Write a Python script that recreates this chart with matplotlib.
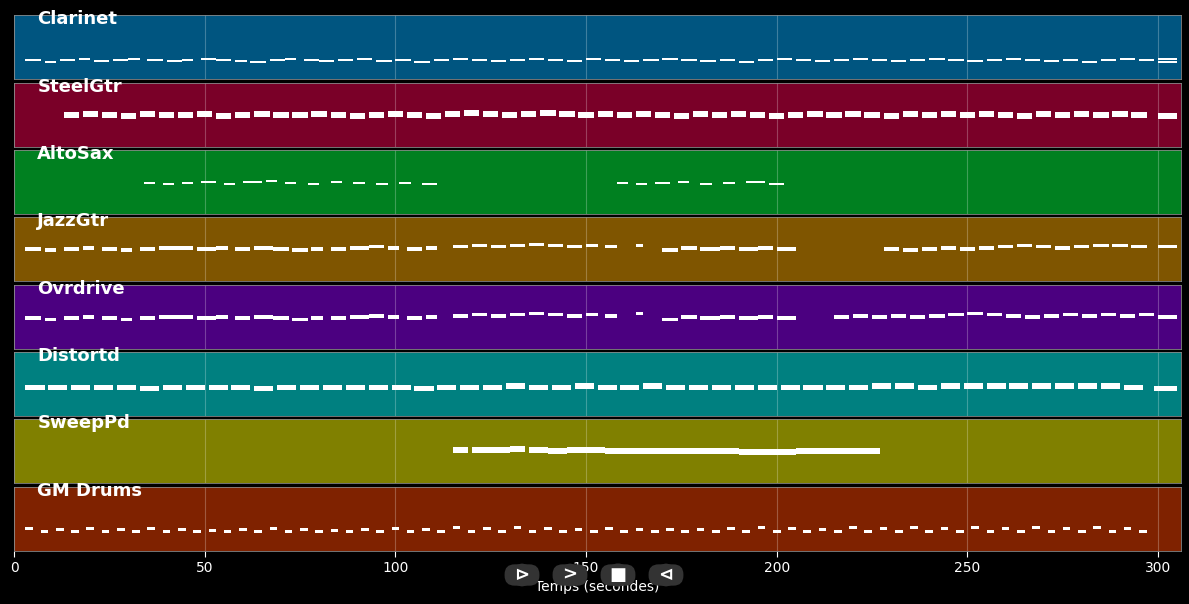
import matplotlib
matplotlib.use("Agg")
import matplotlib.pyplot as plt

names = ["Clarinet", "SteelGtr", "AltoSax", "JazzGtr", "Ovrdrive", "Distortd", "SweepPd", "GM Drums"]
colors = ["#005580", "#7a0028", "#008020", "#7f5500", "#4b0080", "#008080", "#808000", "#7f2200"]

# notes per track: (start s, duration s, pitch)
clar_start = [3,8,12,17,21,26,30,35,40,44,49,53,58,62,67,71,76,80,85,90,95,100,105,110,115,120,125,130,135,140,145,150,155,160,165,170,175,180,185,190,195,200,205,210,215,220,225,230,235,240,245,250,255,260,265,270,275,280,285,290,295,300,300]
clar_dur = [4,3,4,3,4,4,3,4,4,3,4,4,3,4,4,3,4,4,4,4,4,4,4,4,4,4,4,4,4,4,4,4,4,4,4,4,4,4,4,4,4,4,4,4,4,4,4,4,4,4,4,4,4,4,4,4,4,4,4,4,4,5,5]
clar_pitch = [48,46,48,49,47,48,49,48,47,48,49,48,47,46,48,49,48,47,48,49,47,48,46,48,49,48,47,48,49,48,47,49,48,47,48,49,48,47,48,46,48,49,48,47,48,49,48,47,48,49,48,47,48,49,48,47,48,46,48,49,48,49,46]

steel_start = [13,18,23,28,33,38,43,48,53,58,63,68,73,78,83,88,93,98,103,108,113,118,123,128,133,138,143,148,153,158,163,168,173,178,183,188,193,198,203,208,213,218,223,228,233,238,243,248,253,258,263,268,273,278,283,288,293,300]
steel_dur = [4,4,4,4,4,4,4,4,4,4,4,4,4,4,4,4,4,4,4,4,4,4,4,4,4,4,4,4,4,4,4,4,4,4,4,4,4,4,4,4,4,4,4,4,4,4,4,4,4,4,4,4,4,4,4,4,4,5]
steel_pitch = [60,61,60,59,61,60,60,61,59,60,61,60,60,61,60,59,60,61,60,59,61,62,61,60,61,62,61,60,61,60,61,60,59,61,60,61,60,59,60,61,60,61,60,59,61,60,61,60,61,60,59,61,60,61,60,61,60,59]

alto_start = [34,39,44,49,55,60,66,71,77,83,89,95,101,107,158,163,168,174,180,186,192,198]
alto_dur = [3,3,3,4,3,5,3,3,3,3,3,3,3,4,3,3,4,3,3,3,5,4]
alto_pitch = [59,58,59,60,58,60,61,59,58,60,59,58,59,58,59,58,59,60,58,59,60,58]

jazz_start = [3,8,13,18,23,28,33,38,43,48,53,58,63,68,73,78,83,88,93,98,103,108,115,120,125,130,135,140,145,150,155,163,170,175,180,185,190,195,200,228,233,238,243,248,253,258,263,268,273,278,283,288,293,300]
jazz_dur = [4,3,4,3,4,3,4,5,4,5,3,4,5,4,4,3,4,5,4,3,4,3,4,4,4,4,4,4,4,3,3,2,4,4,5,4,5,4,5,4,4,4,4,4,4,4,4,4,4,4,4,4,4,5]
jazz_pitch = [60,59,60,61,60,59,60,61,61,60,61,60,61,60,59,60,60,61,62,61,60,61,62,63,62,63,64,63,62,63,62,63,59,61,60,61,60,61,60,60,59,60,61,60,61,62,63,62,61,62,63,63,62,62]

ovr_start = [3,8,13,18,23,28,33,38,43,48,53,58,63,68,73,78,83,88,93,98,103,108,115,120,125,130,135,140,145,150,155,163,170,175,180,185,190,195,200,215,220,225,230,235,240,245,250,255,260,265,270,275,280,285,290,295,300]
ovr_dur = [4,3,4,3,4,3,4,5,4,5,3,4,5,4,4,3,4,5,4,3,4,3,4,4,4,4,4,4,4,3,3,2,4,4,5,4,5,4,5,4,4,4,4,4,4,4,4,4,4,4,4,4,4,4,4,4,5]
ovr_pitch = [59,58,59,60,59,58,59,60,60,59,60,59,60,59,58,59,59,60,61,60,59,60,61,62,61,62,63,62,61,62,61,63,58,60,59,60,59,60,59,60,61,60,61,60,61,62,63,62,61,60,61,62,61,62,61,62,60]

dist_start = [3,9,15,21,27,33,39,45,51,57,63,69,75,81,87,93,99,105,111,117,123,129,135,141,147,153,159,165,171,177,183,189,195,201,207,213,219,225,231,237,243,249,255,261,267,273,279,285,291,299]
dist_dur = [5,5,5,5,5,5,5,5,5,5,5,5,5,5,5,5,5,5,5,5,5,5,5,5,5,5,5,5,5,5,5,5,5,5,5,5,5,5,5,5,5,5,5,5,5,5,5,5,5,6]
dist_pitch = [57,57,57,57,57,56,57,57,57,57,56,57,57,57,57,57,57,56,57,57,57,58,57,57,58,57,57,58,57,57,57,57,57,57,57,57,57,58,58,57,58,58,58,58,58,58,58,58,57,56]

sweep_start = [115,120,125,130,135,140,145,150,155,160,165,170,175,180,185,190,195,200,205,210,215,220,224]
sweep_dur = [4,5,5,4,5,5,5,5,5,5,5,5,5,5,5,5,5,5,5,5,5,4,3]
sweep_pitch = [61,61,61,62,61,60,61,61,60,60,60,60,60,60,60,59,59,59,60,60,60,60,60]

drum_start = [3,7,11,15,19,23,27,31,35,39,43,47,51,55,59,63,67,71,75,79,83,87,91,95,99,103,107,111,115,119,123,127,131,135,139,143,147,151,155,159,163,167,171,175,179,183,187,191,195,199,203,207,211,215,219,223,227,231,235,239,243,247,251,255,259,263,267,271,275,279,283,287,291,295]
drum_dur = [2]*74
drum_pitch = [51,48,50,48,51,48,50,48,51,48,50,48,49,48,50,48,51,48,50,48,49,48,50,48,51,48,50,48,52,48,51,48,52,48,51,48,50,48,51,48,50,48,50,48,50,48,51,48,52,48,51,48,50,48,52,48,51,48,52,48,51,48,52,48,51,48,52,48,51,48,52,48,51,48]

tracks = [
    (clar_start, clar_dur, clar_pitch, 2.0),
    (steel_start, steel_dur, steel_pitch, 5.0),
    (alto_start, alto_dur, alto_pitch, 2.0),
    (jazz_start, jazz_dur, jazz_pitch, 3.0),
    (ovr_start, ovr_dur, ovr_pitch, 3.0),
    (dist_start, dist_dur, dist_pitch, 5.0),
    (sweep_start, sweep_dur, sweep_pitch, 5.5),
    (drum_start, drum_dur, drum_pitch, 2.5),
]

fig = plt.figure(figsize=(11.89, 6.04), dpi=100, facecolor="black")
W, H = 1189, 604
tops = [15, 83, 150, 217, 285, 352, 419, 487]
ph = 64
for i, (name, col, tr) in enumerate(zip(names, colors, tracks)):
    top = tops[i]
    ax = fig.add_axes([14 / W, 1 - (top + ph) / H, (1181 - 14) / W, ph / H])
    ax.set_facecolor(col)
    st, du, pi, h = tr
    ax.barh(pi, du, left=st, height=h, color="white", edgecolor="none")
    ax.set_xlim(0, 306)
    ax.set_ylim(30, 90)
    ax.set_yticks([])
    ax.set_xticks([0, 50, 100, 150, 200, 250, 300])
    ax.grid(axis="x", color="white", alpha=0.25, linewidth=0.8)
    ax.set_axisbelow(True)
    for s in ax.spines.values():
        s.set_color("#888888")
        s.set_linewidth(0.6)
    ax.text(0.02, 0.94, name, transform=ax.transAxes, color="white",
            fontsize=13, fontweight="bold", va="center", ha="left")
    if i < 7:
        ax.tick_params(axis="x", labelbottom=False, length=0)
    else:
        ax.tick_params(axis="x", colors="white", labelsize=10, length=4)
        ax.set_xlabel("Temps (secondes)", color="white", fontsize=10, labelpad=3)

for xp, sym in zip([522, 570, 618, 666], ["⊳", ">", "■", "⊲"]):
    fig.text(xp / W, 1 - 575 / H, sym, color="white", fontsize=13, fontweight="bold",
             ha="center", va="center",
             bbox=dict(boxstyle="round,pad=0.15,rounding_size=0.7", fc="#333333", ec="none",
                       ))
    fig.text(xp / W, 1 - 575 / H, "      ", fontsize=12, ha="center", va="center", zorder=0,
             bbox=dict(boxstyle="round,pad=0.1,rounding_size=0.6", fc="#333333", ec="none"))

fig.savefig("out.png", dpi=100, facecolor="black")
